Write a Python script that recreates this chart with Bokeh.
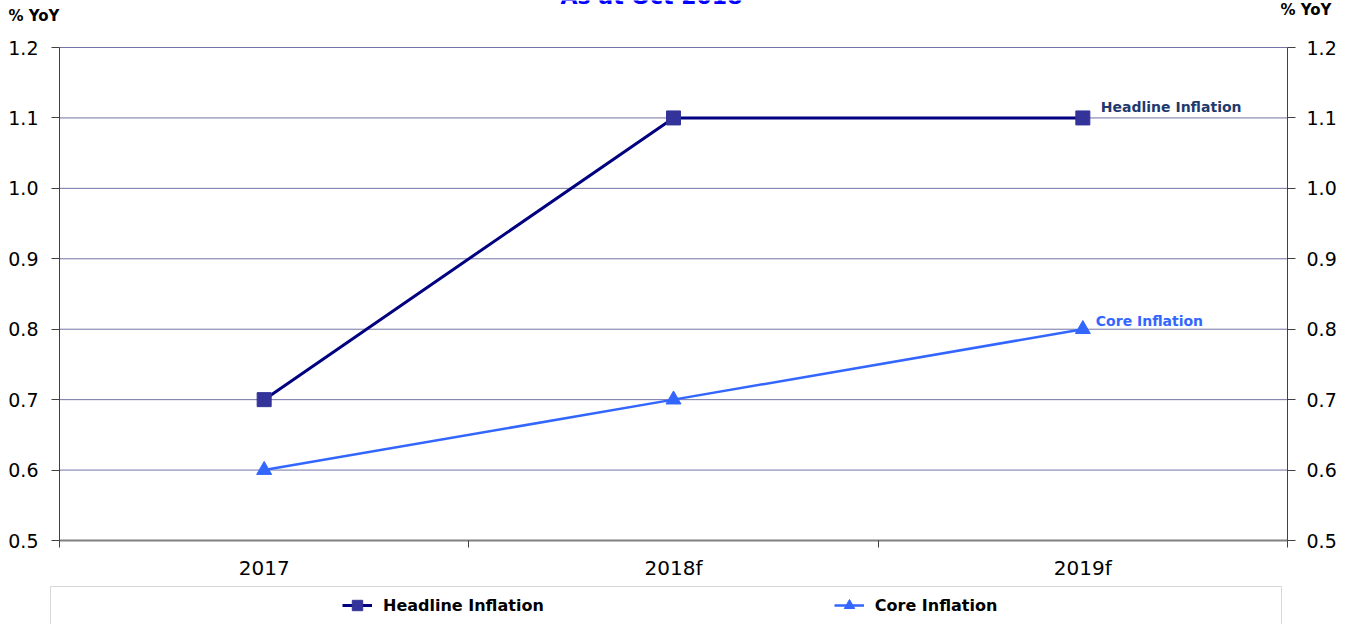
from bokeh.plotting import figure
from bokeh.models import (Range1d, LinearAxis, FixedTicker, NumeralTickFormatter, Legend,
                          LegendItem, Label, BoxAnnotation, ColumnDataSource)
from bokeh.core.properties import value
from bokeh.embed import file_html
from bokeh.resources import INLINE

# ---- data ----
categories = ["2017", "2018f", "2019f"]
headline = [0.7, 1.1, 1.1]
core = [0.6, 0.7, 0.8]
y_ticks = [0.5, 0.6, 0.7, 0.8, 0.9, 1.0, 1.1, 1.2]
series_names = ["Headline Inflation", "Core Inflation"]
title_text = "As at Oct 2018"
unit_text = "% YoY"

FONT = "DejaVu Sans"
W, H = 1354, 624
# where the data area sits on the canvas (pixels)
AL, AR, AT, AB = 59, 1287, 47, 540

n = len(categories)
x_pos = [i + 0.5 for i in range(n)]
sx = (AR - AL) / n
sy = (AB - AT) / (y_ticks[-1] - y_ticks[0])
xr = Range1d(0 - AL / sx, n + (W - AR) / sx)
yr = Range1d(y_ticks[0] - (H - AB) / sy, y_ticks[-1] + AT / sy)


def px_x(cx):
    return (cx - AL) / sx


def px_y(cy):
    return y_ticks[-1] - (cy - AT) / sy


p = figure(width=W, height=H, x_range=xr, y_range=yr, output_backend="svg",
           toolbar_location=None, x_axis_location=None, y_axis_location=None,
           min_border=0)
p.outline_line_color = None
p.background_fill_color = "white"
p.border_fill_color = "white"
p.xgrid.visible = False
p.ygrid.visible = False

# horizontal gridlines over the data area
p.segment(x0=[0] * (len(y_ticks) - 1), x1=[n] * (len(y_ticks) - 1),
          y0=y_ticks[1:], y1=y_ticks[1:], line_color="#7373a6", line_width=1)

yfmt = NumeralTickFormatter(format="0.0")
for side, standoff, loc in (("left", 13, 0), ("right", 11, n)):
    ax = LinearAxis(ticker=FixedTicker(ticks=y_ticks), formatter=yfmt,
                    fixed_location=loc, bounds=(y_ticks[0], y_ticks[-1]),
                    major_tick_in=0, major_tick_out=8, minor_tick_line_color=None,
                    major_label_standoff=standoff, axis_line_color="#404040",
                    major_tick_line_color="#404040",
                    major_label_text_font=FONT, major_label_text_font_size="19px",
                    major_label_text_color="black")
    p.add_layout(ax, side)

xax = LinearAxis(ticker=FixedTicker(ticks=x_pos, minor_ticks=list(range(n + 1))),
                 fixed_location=y_ticks[0], bounds=(0, n),
                 major_label_overrides={x: c for x, c in zip(x_pos, categories)},
                 major_tick_line_color=None, major_tick_out=7, major_tick_in=0,
                 minor_tick_out=7, minor_tick_in=0, minor_tick_line_color="#404040",
                 axis_line_color="#808080", axis_line_width=2, major_label_standoff=8,
                 major_label_text_font=FONT, major_label_text_font_size="20px",
                 major_label_text_color="black")
p.add_layout(xax, "below")

src = ColumnDataSource(dict(x=x_pos, headline=headline, core=core))
hl = p.line("x", "headline", source=src, line_color="#000080", line_width=3)
hs = p.scatter("x", "headline", source=src, marker="square", size=14,
               fill_color="#333399", line_color="#333399")
cl = p.line("x", "core", source=src, line_color="#3366FF", line_width=2.5)
cs = p.scatter("x", "core", source=src, marker="triangle", size=15,
               fill_color="#3366FF", line_color="#3366FF")

p.text(x=[x_pos[-1]], y=[headline[-1]], text=[series_names[0]], x_offset=18, y_offset=-11,
       text_font=value(FONT), text_font_style="bold", text_font_size="14px",
       text_color="#1F3A6E", text_baseline="alphabetic")
p.text(x=[x_pos[-1]], y=[core[-1]], text=[series_names[1]], x_offset=13, y_offset=-8,
       text_font=value(FONT), text_font_style="bold", text_font_size="14px",
       text_color="#3366FF", text_baseline="alphabetic")

p.add_layout(Label(x=px_x(651), y=px_y(-4.5), text=title_text, text_align="center",
                   text_baseline="alphabetic", text_font=FONT, text_font_style="bold",
                   text_font_size="22px", text_color="#0000FF"))
p.add_layout(Label(x=px_x(8), y=px_y(15.7), text=unit_text, text_align="left",
                   text_baseline="alphabetic", text_font=FONT, text_font_style="bold",
                   text_font_size="15px", text_color="black"))
p.add_layout(Label(x=px_x(1280), y=px_y(9.7), text=unit_text, text_align="left",
                   text_baseline="alphabetic", text_font=FONT, text_font_style="bold",
                   text_font_size="15px", text_color="black"))

p.add_layout(BoxAnnotation(left=px_x(50), right=px_x(1281), top=px_y(586), bottom=px_y(660),
                           fill_color=None, fill_alpha=0, line_color="#7f7f7f", line_width=1))

legend = Legend(items=[LegendItem(label=series_names[0], renderers=[hl, hs]),
                       LegendItem(label=series_names[1], renderers=[cl, cs])],
                orientation="horizontal", location=(342, 6),
                spacing=290, padding=0, margin=0, glyph_width=30, glyph_height=26,
                label_standoff=11, label_text_font=FONT, label_text_font_style="bold",
                label_text_font_size="16px", label_text_color="black",
                border_line_color=None, background_fill_alpha=0)
p.add_layout(legend, "center")

open("out.html", "w").write(file_html(p, INLINE))
